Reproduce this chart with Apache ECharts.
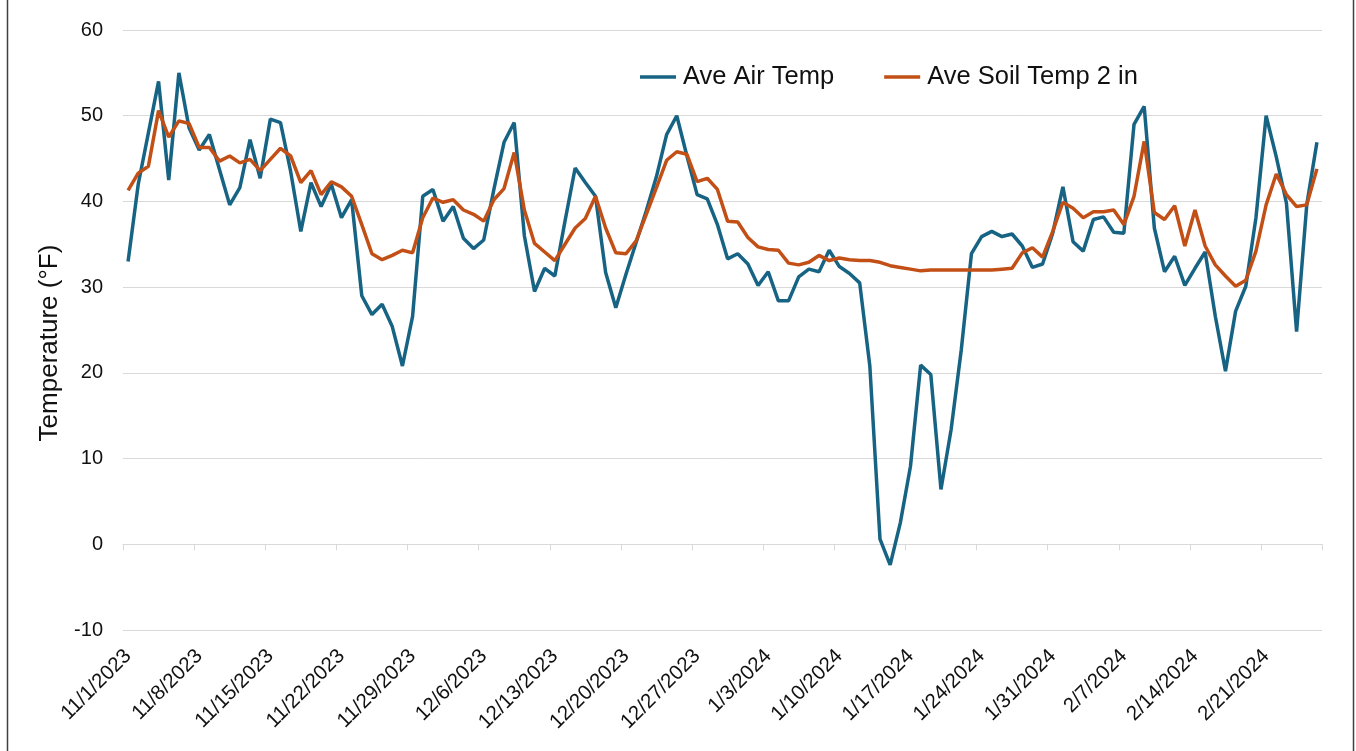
<!DOCTYPE html>
<html>
<head>
<meta charset="utf-8">
<script src="https://cdn.jsdelivr.net/npm/echarts@6/dist/echarts.min.js"></script>
<style>
  html, body { margin: 0; padding: 0; background: #fff; }
  #main { width: 1356px; height: 751px; }
</style>
</head>
<body>
<div id="main"></div>
<script>
// daily values, 11/1/2023 .. 2/26/2024
const airTemp = [
  33.0, 42.0, 48.0, 54.0, 42.5, 55.0, 48.6, 46.0, 47.8, 43.7,
  39.6, 41.6, 47.2, 42.7, 49.6, 49.2, 43.5, 36.5, 42.2, 39.4,
  42.0, 38.1, 40.2, 29.0, 26.8, 28.0, 25.4, 20.8, 26.6, 40.6,
  41.4, 37.7, 39.4, 35.7, 34.5, 35.5, 41.4, 46.9, 49.2, 36.0,
  29.5, 32.2, 31.3, 37.7, 43.9, 42.2, 40.6, 31.7, 27.6, 31.5,
  35.2, 38.9, 42.9, 47.8, 50.0, 45.3, 40.8, 40.3, 37.3, 33.3,
  33.9, 32.7, 30.2, 31.8, 28.4, 28.4, 31.2, 32.1, 31.8, 34.3,
  32.4, 31.6, 30.5, 20.8, 0.6, -2.4, 2.5, 9.1, 20.9, 19.8,
  6.4, 13.4, 22.7, 33.9, 35.9, 36.5, 35.9, 36.2, 34.8, 32.3,
  32.7, 36.3, 41.7, 35.3, 34.2, 37.9, 38.2, 36.4, 36.3, 49.0,
  51.1, 36.9, 31.8, 33.6, 30.2, 32.2, 34.1, 26.6, 20.2, 27.2,
  30.1, 38.1, 50.0, 45.2, 39.8, 24.8, 39.6, 46.9
];
const soilTemp = [
  41.3, 43.3, 44.1, 50.6, 47.5, 49.4, 49.1, 46.3, 46.3, 44.7,
  45.3, 44.5, 44.9, 43.6, 44.9, 46.2, 45.3, 42.2, 43.6, 40.8,
  42.3, 41.7, 40.6, 37.3, 33.9, 33.2, 33.7, 34.3, 34.0, 38.1,
  40.4, 39.9, 40.2, 39.0, 38.5, 37.7, 40.2, 41.5, 45.7, 39.0,
  35.1, 34.1, 33.1, 35.0, 36.9, 38.0, 40.6, 36.9, 34.0, 33.9,
  35.4, 38.5, 41.6, 44.8, 45.8, 45.5, 42.3, 42.7, 41.4, 37.7,
  37.6, 35.8, 34.7, 34.4, 34.3, 32.8, 32.6, 32.9, 33.7, 33.1,
  33.4, 33.2, 33.1, 33.1, 32.9, 32.5, 32.3, 32.1, 31.9, 32.0,
  32.0, 32.0, 32.0, 32.0, 32.0, 32.0, 32.1, 32.2, 34.0, 34.6,
  33.5, 36.5, 39.9, 39.2, 38.1, 38.8, 38.8, 39.0, 37.3, 40.6,
  47.0, 38.7, 37.9, 39.5, 34.8, 39.0, 34.8, 32.6, 31.3, 30.1,
  30.8, 34.2, 39.6, 43.2, 40.8, 39.4, 39.6, 43.8
];

// category labels m/d/yyyy
const dates = [];
for (let i = 0; i < airTemp.length; i++) {
  const d = new Date(2023, 10, 1 + i);
  dates.push((d.getMonth() + 1) + '/' + d.getDate() + '/' + d.getFullYear());
}

const FONT = '"Liberation Sans", Arial, sans-serif';
const chart = echarts.init(document.getElementById('main'));

chart.setOption({
  animation: false,
  backgroundColor: '#fff',
  grid: { left: 123, right: 34, top: 30, bottom: 121 },
  legend: {
    left: 635,
    top: 59,
    icon: 'rect',
    itemWidth: 36,
    itemHeight: 3.5,
    itemGap: 50,
    textStyle: { fontFamily: FONT, fontSize: 25.5, color: '#111', padding: [0, 0, 0, 2] },
    data: ['Ave Air Temp', 'Ave Soil Temp 2 in']
  },
  xAxis: [
    {
      // line and ticks at zero
      type: 'category',
      data: dates,
      boundaryGap: true,
      axisLine: { onZero: true, lineStyle: { color: '#d9d9d9', width: 1 } },
      axisTick: { show: true, interval: 6, length: 6, lineStyle: { color: '#d9d9d9' } },
      axisLabel: { show: false }
    },
    {
      // date labels at the bottom
      type: 'category',
      data: dates,
      position: 'bottom',
      boundaryGap: true,
      axisLine: { show: false, onZero: false },
      axisTick: { show: false },
      axisLabel: {
        interval: 6,
        rotate: 45,
        margin: 23,
        fontFamily: FONT,
        fontSize: 20.5,
        color: '#111'
      }
    }
  ],
  yAxis: {
    type: 'value',
    min: -10,
    max: 60,
    interval: 10,
    axisLine: { show: false },
    axisTick: { show: false },
    axisLabel: { margin: 20, fontFamily: FONT, fontSize: 20, color: '#111' },
    splitLine: { lineStyle: { color: '#d9d9d9', width: 1 } }
  },
  series: [
    {
      name: 'Ave Air Temp',
      type: 'line',
      xAxisIndex: 0,
      data: airTemp,
      symbol: 'none',
      lineStyle: { color: '#176384', width: 3.5 },
      itemStyle: { color: '#176384' }
    },
    {
      name: 'Ave Soil Temp 2 in',
      type: 'line',
      xAxisIndex: 0,
      data: soilTemp,
      symbol: 'none',
      lineStyle: { color: '#C24F16', width: 3.5 },
      itemStyle: { color: '#C24F16' }
    }
  ],
  graphic: [
    {
      type: 'text',
      x: 50,
      y: 343,
      rotation: Math.PI / 2,
      style: {
        text: 'Temperature (°F)',
        font: '26px "Liberation Sans", Arial, sans-serif',
        fill: '#111',
        align: 'center',
        verticalAlign: 'middle'
      },
      silent: true
    },
    {
      type: 'rect',
      shape: { x: 7.5, y: -5, width: 1346, height: 770 },
      style: { fill: 'none', stroke: '#404040', lineWidth: 1.5 },
      silent: true
    }
  ]
});
</script>
</body>
</html>
